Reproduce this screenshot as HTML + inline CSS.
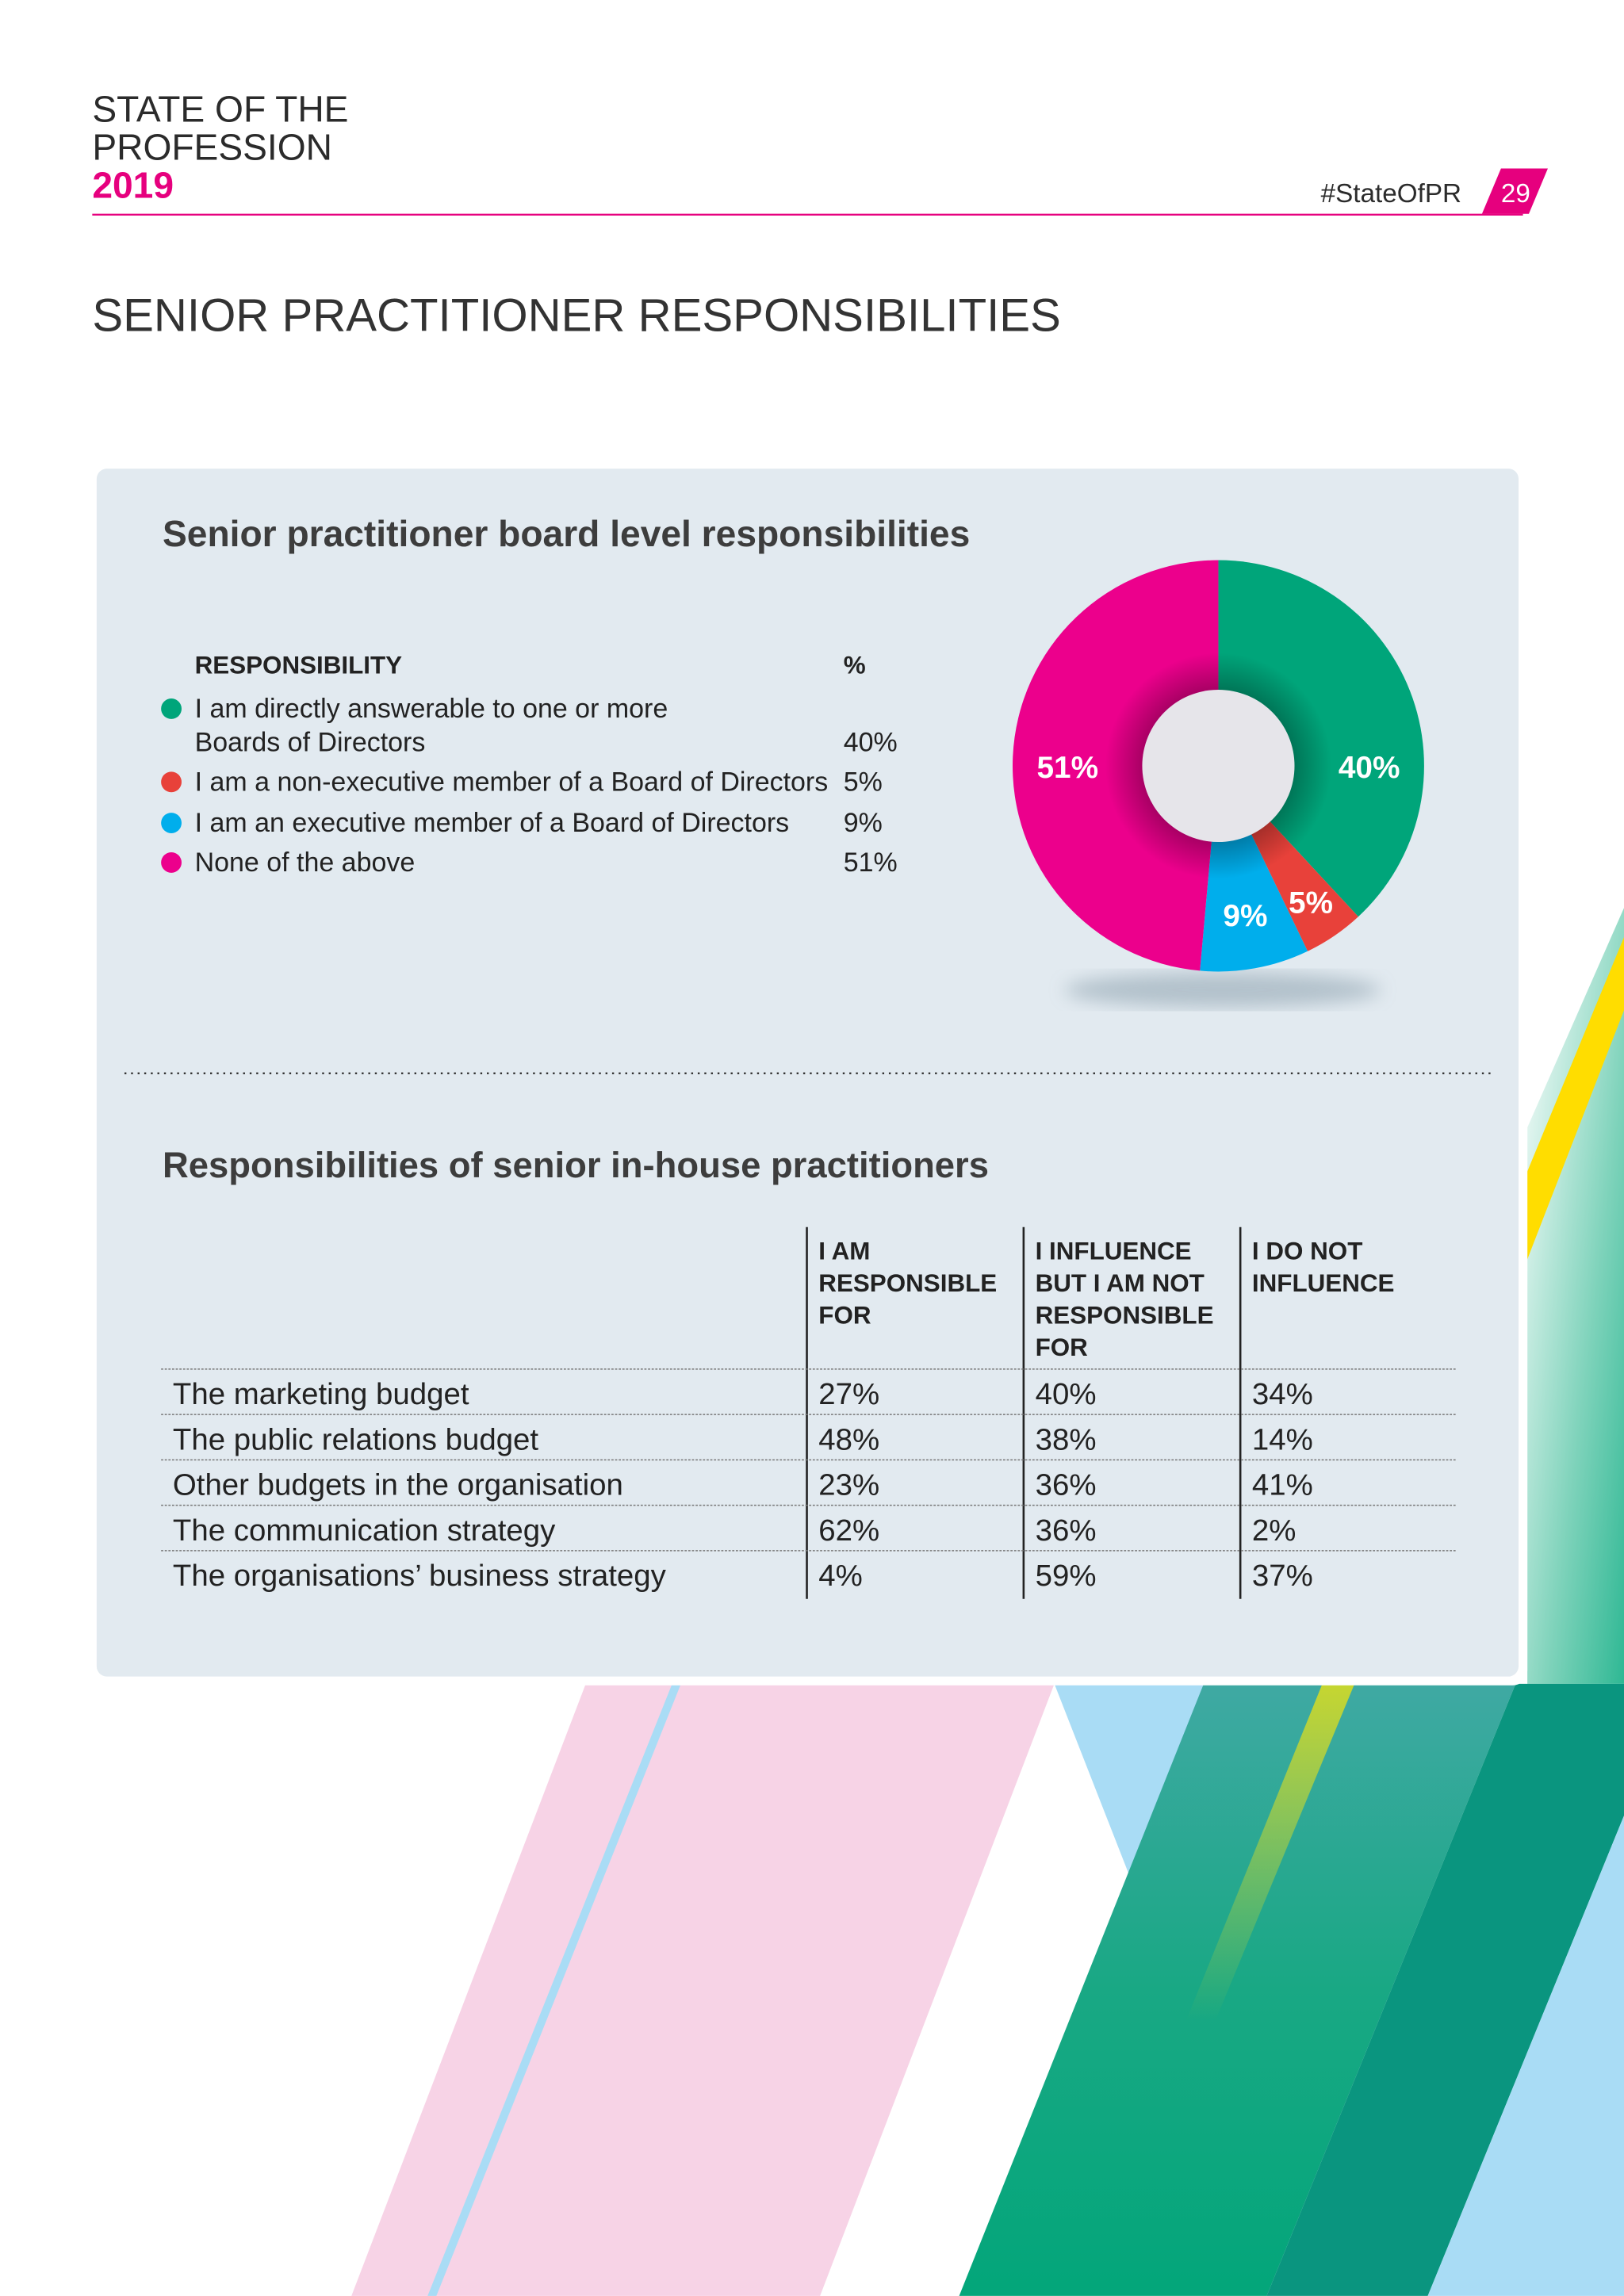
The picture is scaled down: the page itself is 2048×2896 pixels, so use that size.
<!DOCTYPE html>
<html><head><meta charset="utf-8"><style>
html,body{margin:0;padding:0;background:#fff}
svg{display:block}
text{font-family:"Liberation Sans",sans-serif}
</style></head><body>
<svg id="page" width="2048" height="2896" viewBox="0 0 1109 1568" xmlns="http://www.w3.org/2000/svg">
<defs>
<linearGradient id="gTeal" x1="0" y1="0" x2="0" y2="1"><stop offset="0" stop-color="#3fa9a3"/><stop offset="0.5" stop-color="#19a884"/><stop offset="1" stop-color="#03a67a"/></linearGradient>
<linearGradient id="gRight" x1="0" y1="0" x2="1" y2="1"><stop offset="0" stop-color="#ffffff"/><stop offset="0.6" stop-color="#7fd3bb"/><stop offset="1" stop-color="#2fb894"/></linearGradient>
<linearGradient id="gLime" x1="0" y1="0" x2="0" y2="1"><stop offset="0" stop-color="#c6d630"/><stop offset="1" stop-color="#c6d630" stop-opacity="0"/></linearGradient>
<radialGradient id="hole" cx="0.5" cy="0.5" r="0.5"><stop offset="0.36" stop-color="#000" stop-opacity="0.3"/><stop offset="0.55" stop-color="#000" stop-opacity="0"/></radialGradient>
<filter id="blur"><feGaussianBlur stdDeviation="6"/></filter>
</defs>

<g>
<polygon points="1109,620 1109,1150 1043,1150 1043,770" fill="url(#gRight)"/>
<polygon points="1109,640 1109,690 1043,860 1043,800" fill="#ffdd00"/>
<polygon points="400,1150 720,1150 560,1568 240,1568" fill="#f7d3e6"/>
<polygon points="459,1150 465,1150 298,1568 292,1568" fill="#a9dcf5"/>
<polygon points="720,1150 822,1150 810,1380" fill="#a9dcf5"/>
<polygon points="822,1150 1035,1150 865,1568 655,1568" fill="url(#gTeal)"/>
<polygon points="1035,1150 1109,1150 1109,1240 975,1568 865,1568" fill="#0a957f"/>
<polygon points="975,1568 1109,1568 1109,1240" fill="#a9dcf5"/>
<polygon points="903,1150 925,1150 830,1380 810,1380" fill="url(#gLime)"/>
</g>

<g>
<text x="63" y="83" font-size="25" fill="#2b2b2b">STATE OF THE</text>
<text x="63" y="109" font-size="25" fill="#2b2b2b">PROFESSION</text>
<text x="63" y="135" font-size="25" font-weight="bold" fill="#e6007e">2019</text>
<line x1="63" y1="146.5" x2="1040" y2="146.5" stroke="#e6007e" stroke-width="1.2"/>
<text x="998" y="138" font-size="18" fill="#2b2b2b" text-anchor="end">#StateOfPR</text>
<polygon points="1012,146 1025,115 1057,115 1044,146" fill="#e6007e"/>
<text x="1035" y="138" font-size="18" fill="#fff" text-anchor="middle">29</text>
<text x="63" y="226" font-size="31.5" fill="#333">SENIOR PRACTITIONER RESPONSIBILITIES</text>
</g>

<rect x="60" y="314" width="983" height="837" rx="10" fill="#fff"/>
<rect x="66" y="320" width="971" height="825" rx="7" fill="#e2eaf0"/>

<text x="111" y="373" font-size="25" font-weight="bold" fill="#3d3d3d">Senior practitioner board level responsibilities</text>

<g font-size="18.4">
<text x="133" y="460" font-size="17" font-weight="bold" fill="#222">RESPONSIBILITY</text>
<text x="576" y="460" font-size="17" font-weight="bold" fill="#222">%</text>
<g>
<circle cx="117" cy="484" r="7" fill="#00a57a"/>
<text x="133" y="490" fill="#222">I am directly answerable to one or more</text>
<text x="133" y="513" fill="#222">Boards of Directors</text>
<text x="576" y="513" fill="#222">40%</text>
</g>
<g>
<circle cx="117" cy="534" r="7" fill="#e8413a"/>
<text x="133" y="540" fill="#222">I am a non-executive member of a Board of Directors</text>
<text x="576" y="540" fill="#222">5%</text>
</g>
<g>
<circle cx="117" cy="562" r="7" fill="#00aeec"/>
<text x="133" y="568" fill="#222">I am an executive member of a Board of Directors</text>
<text x="576" y="568" fill="#222">9%</text>
</g>
<g>
<circle cx="117" cy="589" r="7" fill="#ec008c"/>
<text x="133" y="595" fill="#222">None of the above</text>
<text x="576" y="595" fill="#222">51%</text>
</g>
</g>

<ellipse cx="835" cy="676" rx="108" ry="12" fill="#9fb0bc" opacity="0.7" filter="url(#blur)"/>
<g id="pie"></g>

<line x1="85" y1="733" x2="1020" y2="733" stroke="#333" stroke-width="1.3" stroke-dasharray="1.3,3.2"/>

<text x="111" y="804" font-size="24.6" font-weight="bold" fill="#3d3d3d">Responsibilities of senior in-house practitioners</text>
<g id="table"></g>
</svg>
<script>
const pieLabels = ["40%", "5%", "9%", "51%"];
const pieValues = [40, 5, 9, 51];
const pieColors = ["#00a57a", "#e8413a", "#00aeec", "#ec008c"];
const pieNames = ["answerable", "non-executive", "executive", "none"];

const rowLabels = ["The marketing budget","The public relations budget","Other budgets in the organisation","The communication strategy","The organisations\u2019 business strategy"];
const colResponsible = [27, 48, 23, 62, 4];
const colInfluence = [40, 38, 36, 36, 59];
const colNoInfluence = [34, 14, 41, 2, 37];
const colHeaders = [["I AM","RESPONSIBLE","FOR"],["I INFLUENCE","BUT I AM NOT","RESPONSIBLE","FOR"],["I DO NOT","INFLUENCE"]];

const NS = "http://www.w3.org/2000/svg";
function mk(tag, attrs, parent){const e=document.createElementNS(NS,tag);for(const k in attrs)e.setAttribute(k,attrs[k]);parent.appendChild(e);return e;}

const pie = document.getElementById('pie');
const cx = 832, cy = 523, R = 140.5, r0 = 52;
const total = pieValues.reduce((a,b)=>a+b,0);
function angleOf(v){return v/total*2*Math.PI;}
function pt(a,rad){return [cx+rad*Math.sin(a), cy-rad*Math.cos(a)];}
let acc = 0;
pieValues.forEach((v,i)=>{
  const a0 = angleOf(acc), a1 = angleOf(acc+v);
  const [x0,y0]=pt(a0,R),[x1,y1]=pt(a1,R);
  const large = (a1-a0)>Math.PI?1:0;
  const p = mk('path',{d:`M${cx},${cy} L${x0},${y0} A${R},${R} 0 ${large} 1 ${x1},${y1} Z`,fill:pieColors[i]},pie);
  
  
  acc += v;
});
const shade = mk('circle',{cx:cx,cy:cy,r:R,fill:'url(#hole)'},pie);


const holeC = mk('circle',{cx:cx,cy:cy,r:r0,fill:'#e6e5ea'},pie);


acc = 0;
pieValues.forEach((v,i)=>{
  const a0 = angleOf(acc), a1 = angleOf(acc+v);
  let am = (a0+a1)/2;
  [Math.PI/2, 3*Math.PI/2].forEach(h=>{ if (h>a0+0.2 && h<a1-0.2) am = h; });
  const rad = v < 8 ? 112 : 103;
  const [x,y]=pt(am,rad);
  const t = mk('text',{x:x,y:y+8,'font-size':21,'font-weight':'bold',fill:'#fff','text-anchor':'middle'},pie);
  t.textContent = pieLabels[i];
  
  
  acc += v;
});

const tbl = document.getElementById('table');
const colX = [551, 699, 847];
const rowTop = 935, rowH = 31;
colX.forEach((x,ci)=>{
  const l = mk('line',{x1:x,y1:838,x2:x,y2:1092,stroke:'#222','stroke-width':1.4},tbl);
  
  
  colHeaders[ci].forEach((line,li)=>{
    const t = mk('text',{x:x+8,y:860+li*22,'font-size':17,'font-weight':'bold',fill:'#222'},tbl);
    t.textContent = line;
    
    
  });
});
const cols = [colResponsible, colInfluence, colNoInfluence];
rowLabels.forEach((lab,ri)=>{
  const y = rowTop + ri*rowH;
  const rule = mk('line',{x1:110,y1:y,x2:995,y2:y,stroke:'#777','stroke-width':0.8,'stroke-dasharray':'1.5,1'},tbl);
  
  
  const t = mk('text',{x:118,y:y+24,'font-size':20.8,fill:'#222'},tbl);
  t.textContent = lab;
  
  
  cols.forEach((c,ci)=>{
    const v = mk('text',{x:colX[ci]+8,y:y+24,'font-size':20.8,fill:'#222'},tbl);
    v.textContent = c[ri] + '%';
    
    
  });
});
</script>
</body></html>
